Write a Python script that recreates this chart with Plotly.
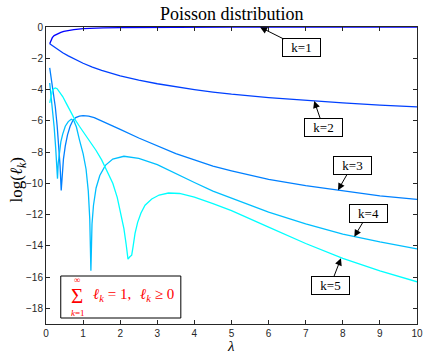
import plotly.graph_objects as go

# ---------------- data ----------------
lam1 = [0.1, 0.13, 0.17, 0.22, 0.31, 0.4, 0.48, 0.6, 0.75, 1.0, 1.25, 1.54, 2.0, 2.5, 3, 4, 5, 6, 8, 10]
val1 = [-1.07, -0.85, -0.68, -0.55, -0.42, -0.34, -0.28, -0.22, -0.17, -0.11, -0.08, -0.06, -0.04,
        -0.03, -0.02, -0.015, -0.01, -0.008, -0.005, -0.004]

lam2 = [0.1, 0.2, 0.3, 0.45, 0.6, 0.8, 1.0, 1.25, 1.5, 2.0, 2.5, 3.0, 3.5, 4.0, 4.5, 5, 6, 7, 8, 9, 10]
val2 = [-1.07, -1.25, -1.42, -1.65, -1.85, -2.1, -2.32, -2.57, -2.78, -3.12, -3.4, -3.63, -3.83,
        -4.0, -4.16, -4.3, -4.52, -4.7, -4.86, -5.0, -5.11]

lam3 = [0.1, 0.15, 0.2, 0.25, 0.3, 0.35, 0.38, 0.41, 0.44, 0.47, 0.52, 0.58, 0.65, 0.72, 0.8, 0.9,
        1.0, 1.15, 1.3, 1.6, 2.0, 2.5, 3.0, 3.5, 4.0, 4.5, 5.0, 6.0, 7.0, 8.0, 9.0, 10]
val3 = [-2.62, -3.35, -4.15, -5.1, -6.3, -7.7, -8.9, -10.45, -9.2, -8.45, -7.6, -6.9, -6.35, -6.0,
        -5.8, -5.7, -5.67, -5.7, -5.8, -6.1, -6.55, -7.1, -7.6, -8.1, -8.5, -8.9, -9.2, -9.75,
        -10.15, -10.48, -10.8, -11.03]

lam4 = [0.1, 0.14, 0.18, 0.22, 0.26, 0.29, 0.31, 0.33, 0.36, 0.4, 0.45, 0.52, 0.6, 0.68, 0.75,
        0.82, 0.9, 1.0, 1.08, 1.14, 1.18, 1.21, 1.24, 1.28, 1.35, 1.45, 1.6, 1.8, 2.1, 2.5, 3.0,
        3.5, 4.0, 4.5, 5.0, 6.0, 7.0, 8.0, 9.0, 10]
val4 = [-3.58, -4.4, -5.3, -6.4, -7.7, -8.8, -9.7, -8.7, -7.9, -7.35, -6.85, -6.35, -6.05, -5.9,
        -6.0, -6.4, -7.2, -8.1, -9.1, -10.5, -12.3, -15.6, -12.6, -11.4, -10.3, -9.5, -8.85,
        -8.45, -8.27, -8.4, -8.8, -9.4, -9.95, -10.5, -10.95, -11.85, -12.6, -13.25, -13.75, -14.19]

lam5 = [0.1, 0.13, 0.17, 0.21, 0.25, 0.3, 0.37, 0.45, 0.55, 0.65, 0.75, 0.9, 1.05, 1.2, 1.35, 1.5,
        1.65, 1.8, 1.92, 2.02, 2.1, 2.16, 2.21, 2.26, 2.31, 2.35, 2.4, 2.47, 2.56, 2.67, 2.85,
        3.05, 3.3, 3.6, 4.0, 4.5, 5.0, 6.0, 7.0, 8.0, 9.0, 10]
val5 = [-4.86, -4.45, -4.1, -3.95, -3.9, -3.95, -4.15, -4.45, -4.9, -5.35, -5.8, -6.35, -6.85,
        -7.35, -7.9, -8.5, -9.2, -10.0, -10.9, -11.9, -12.9, -13.9, -14.85, -14.7, -14.6, -14.0,
        -13.2, -12.5, -11.9, -11.4, -11.0, -10.75, -10.62, -10.65, -10.88, -11.3, -11.75, -12.8,
        -13.85, -14.8, -15.6, -16.3]

series_lam = [lam1, lam2, lam3, lam4, lam5]
series_val = [val1, val2, val3, val4, val5]
series_names = ["k=1", "k=2", "k=3", "k=4", "k=5"]
colors = ["rgb(0,0,255)", "rgb(0,64,255)", "rgb(0,128,255)", "rgb(0,191,255)", "rgb(0,255,255)"]

# label arrows: (tip lambda, tip value, label lambda, label value)
arrow_tip_lam = [5.77, 7.23, 7.87, 8.31, 7.95]
arrow_tip_val = [-0.01, -4.74, -10.44, -13.42, -14.8]
label_lam = [6.89, 7.47, 8.25, 8.68, 7.67]
label_val = [-1.34, -6.40, -8.87, -11.94, -16.52]

x_ticks = list(range(0, 11))
y_ticks = list(range(-18, 1, 2))

# ---------------- figure ----------------
W, H = 426, 353
ML, MR, MT, MB = 46, 3, 27, 29
PW, PH = W - ML - MR, H - MT - MB


def px(xp):
    return (xp - ML) / PW


def py(yp):
    return (H - MB - yp) / PH


fig = go.Figure()
for lam, val, name, col in zip(series_lam, series_val, series_names, colors):
    fig.add_trace(go.Scatter(x=lam, y=val, mode="lines", name=name,
                             line=dict(color=col, width=1.3)))

axis_common = dict(showline=True, linecolor="#262626", linewidth=1, mirror="ticks",
                   ticks="inside", ticklen=4, tickcolor="#262626", tickwidth=1,
                   showgrid=False, zeroline=False, ticklabeloverflow="allow",
                   tickfont=dict(family="Liberation Sans, Arial, sans-serif", size=10, color="#262626"))

fig.update_xaxes(range=[0, 10], tickvals=x_ticks, **axis_common)
fig.update_yaxes(range=[-19, 0], tickvals=y_ticks, **axis_common)

serif = "Liberation Serif, Times New Roman, serif"
ann = []
# title
ann.append(dict(text="Poisson distribution", xref="paper", yref="paper", x=px(235), y=py(14),
                showarrow=False, font=dict(family=serif, size=18, color="black"),
                xanchor="center", yanchor="middle"))
# axis labels
ann.append(dict(text="<i>λ</i>", xref="paper", yref="paper", x=px(234), y=py(345.5),
                showarrow=False, font=dict(family=serif, size=15, color="black"),
                xanchor="center", yanchor="middle"))
ann.append(dict(text="log(<i>ℓ</i><sub><i>k</i></sub>)", xref="paper", yref="paper",
                x=px(18), y=py(180), textangle=-90, showarrow=False,
                font=dict(family=serif, size=17, color="black"),
                xanchor="center", yanchor="middle"))

# arrow labels
for tl, tv, ll, lv, name in zip(arrow_tip_lam, arrow_tip_val, label_lam, label_val, series_names):
    ann.append(dict(text=name, x=tl, y=tv, xref="x", yref="y", ax=ll, ay=lv,
                    axref="x", ayref="y", showarrow=True, arrowhead=2, arrowsize=1.4,
                    arrowwidth=1, arrowcolor="black", standoff=0,
                    font=dict(family=serif, size=13, color="black"),
                    bgcolor="white", bordercolor="black", borderwidth=1, borderpad=1,
                    width=35, height=15, align="center", valign="middle"))

# formula box
red = "#ff0000"
ann.append(dict(text="Σ", xref="paper", yref="paper", x=px(77), y=py(296), showarrow=False,
                font=dict(family=serif, size=21, color=red), xanchor="center", yanchor="middle"))
ann.append(dict(text="∞", xref="paper", yref="paper", x=px(77.5), y=py(279.5), showarrow=False,
                font=dict(family=serif, size=9, color=red), xanchor="center", yanchor="middle"))
ann.append(dict(text="<i>k</i>=1", xref="paper", yref="paper", x=px(79), y=py(312.5), showarrow=False,
                font=dict(family=serif, size=9, color=red), xanchor="center", yanchor="middle"))
ann.append(dict(text="<i>ℓ</i><sub><i>k</i></sub> = 1,", xref="paper", yref="paper",
                x=px(92), y=py(295), showarrow=False,
                font=dict(family=serif, size=15, color=red), xanchor="left", yanchor="middle"))
ann.append(dict(text="<i>ℓ</i><sub><i>k</i></sub> ≥ 0", xref="paper", yref="paper",
                x=px(139), y=py(295), showarrow=False,
                font=dict(family=serif, size=15, color=red), xanchor="left", yanchor="middle"))

fig.add_shape(type="rect", xref="paper", yref="paper", x0=px(61), x1=px(183), y0=py(318), y1=py(276),
              line=dict(color="black", width=1), fillcolor="white", layer="above")

fig.update_layout(width=W, height=H, margin=dict(l=ML, r=MR, t=MT, b=MB, pad=0),
                  plot_bgcolor="white", paper_bgcolor="white", showlegend=False,
                  annotations=ann)

fig.write_html("out.html")
